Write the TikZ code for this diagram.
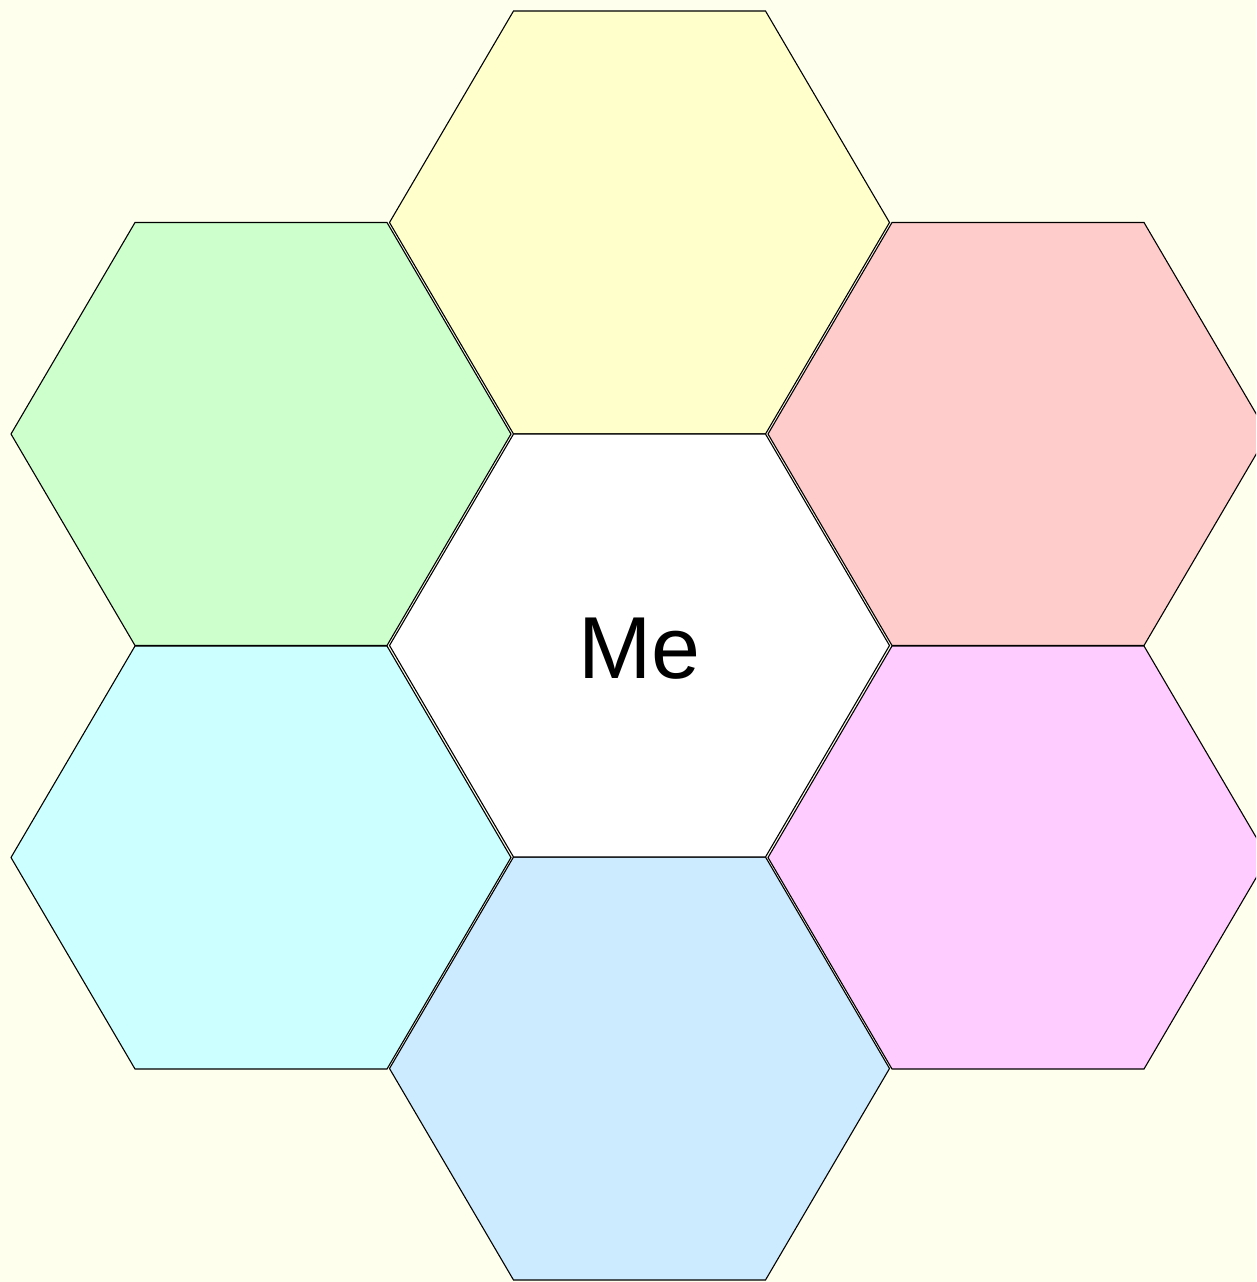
\documentclass[tikz,border=0pt]{standalone}
\usepackage{fontspec}
\setmainfont{Liberation Sans}
\definecolor{bgcol}{HTML}{FFFFEE}
\definecolor{hyellow}{HTML}{FFFFCC}
\definecolor{hred}{HTML}{FFCCCC}
\definecolor{hmagenta}{HTML}{FFCCFF}
\definecolor{hblue}{HTML}{CCEBFF}
\definecolor{hcyan}{HTML}{CCFFFF}
\definecolor{hgreen}{HTML}{CCFFCC}
\tikzset{
  hexstyle/.style={draw=black, line width=1.1pt, line join=miter},
  pics/hexcell/.style={code={
    \path[hexstyle, fill=#1] (-126,-211.5) -- (126,-211.5) -- (250,0) -- (126,211.5) -- (-126,211.5) -- (-250,0) -- cycle;
  }},
  labeltext/.style={font=\fontsize{88}{100}\selectfont, text=black}
}
\begin{document}
\begin{tikzpicture}[x=1pt,y=-1pt]
  \fill[bgcol] (0,0) rectangle (1256,1282);
  \useasboundingbox (0,0) rectangle (1256,1282);
  \clip (0,0) rectangle (1256,1282);
  \pic at (639.5,222.5) {hexcell=hyellow};
  \pic at (1018,434) {hexcell=hred};
  \pic at (1018,857.5) {hexcell=hmagenta};
  \pic at (639.5,1068.5) {hexcell=hblue};
  \pic at (261,857.5) {hexcell=hcyan};
  \pic at (261,434) {hexcell=hgreen};
  \pic at (639.5,645.5) {hexcell=white};
  \node[labeltext] (me) at (639.5,649) {Me};
\end{tikzpicture}
\end{document}
